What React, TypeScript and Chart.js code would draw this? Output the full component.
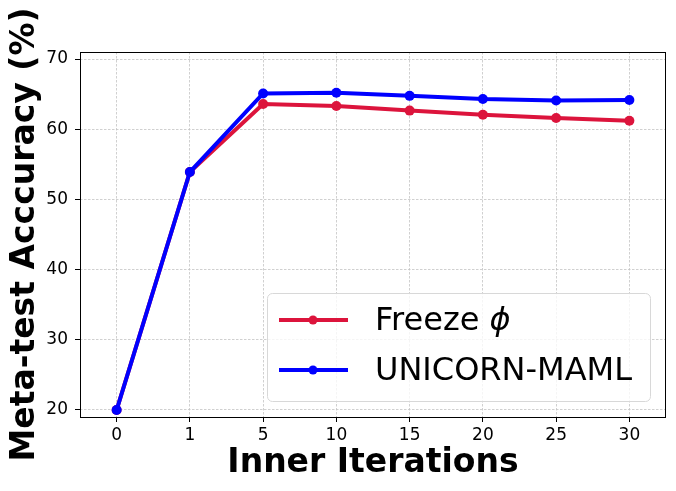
import React, { useEffect, useRef } from "react";
import { Chart, registerables } from "chart.js";

Chart.register(...registerables);

const categories = ["0", "1", "5", "10", "15", "20", "25", "30"];
const freezeValues = [20.0, 53.9, 63.6, 63.3, 62.65, 62.05, 61.6, 61.2];
const unicornValues = [20.0, 53.9, 65.1, 65.2, 64.75, 64.3, 64.1, 64.15];
const yTickValues = [20, 30, 40, 50, 60, 70];
const seriesLabels = ["Freeze \u03d5", "UNICORN-MAML"];
const seriesColors = ["#dc143c", "#0000ff"];

const FONT = "'DejaVu Sans', sans-serif";

const framePlugin = {
  id: "frame",
  afterDatasetsDraw(chart: any) {
    const { ctx, chartArea } = chart;
    ctx.save();
    ctx.strokeStyle = "#000";
    ctx.lineWidth = 1;
    ctx.setLineDash([]);
    ctx.strokeRect(
      Math.round(chartArea.left) + 0.5,
      Math.round(chartArea.top) + 0.5,
      Math.round(chartArea.right - chartArea.left) - 1,
      Math.round(chartArea.bottom - chartArea.top)
    );
    ctx.restore();
  },
};

const legendPlugin = {
  id: "innerLegend",
  afterDraw(chart: any) {
    const { ctx, chartArea } = chart;
    const boxW = 383;
    const boxH = 108;
    const x0 = chartArea.right - 16 - boxW;
    const y0 = chartArea.bottom - 16 - boxH;
    ctx.save();
    ctx.setLineDash([]);
    ctx.beginPath();
    (ctx as any).roundRect(x0 + 0.5, y0 + 0.5, boxW, boxH, 5);
    ctx.fillStyle = "rgba(255,255,255,0.8)";
    ctx.fill();
    ctx.strokeStyle = "#d8d8d8";
    ctx.lineWidth = 1;
    ctx.stroke();
    ctx.font = `32px ${FONT}`;
    ctx.textBaseline = "middle";
    ctx.textAlign = "left";
    seriesLabels.forEach((label, i) => {
      const cy = y0 + 27 + i * 50;
      ctx.strokeStyle = seriesColors[i];
      ctx.lineWidth = 4;
      ctx.beginPath();
      ctx.moveTo(x0 + 12, cy);
      ctx.lineTo(x0 + 81, cy);
      ctx.stroke();
      ctx.fillStyle = seriesColors[i];
      ctx.beginPath();
      ctx.arc(x0 + 46, cy, 4.5, 0, Math.PI * 2);
      ctx.fill();
      ctx.fillStyle = "#000";
      if (i === 0) {
        const base = "Freeze ";
        ctx.fillText(base, x0 + 108, cy + 2);
        const w = ctx.measureText(base).width;
        ctx.font = `oblique 32px ${FONT}`;
        ctx.fillText("\u03d5", x0 + 108 + w, cy + 2);
        ctx.font = `32px ${FONT}`;
      } else {
        ctx.fillText(label, x0 + 108, cy + 2);
      }
    });
    ctx.restore();
  },
};

export default function App() {
  const canvasRef = useRef<HTMLCanvasElement | null>(null);

  useEffect(() => {
    document.body.style.margin = "0";
    const canvas = canvasRef.current;
    if (!canvas) return;
    const gridCommon = {
      color: "#c4c4c4",
      lineWidth: 0.8,
      tickColor: "#000",
      tickLength: 5,
      tickWidth: 1,
      tickBorderDash: [],
    };
    const chart = new Chart(canvas, {
      type: "line",
      data: {
        labels: categories,
        datasets: [
          {
            label: seriesLabels[0],
            data: freezeValues,
            borderColor: seriesColors[0],
            backgroundColor: seriesColors[0],
            borderWidth: 4,
            pointRadius: 5,
            pointHoverRadius: 5,
            pointBorderWidth: 0,
            tension: 0,
            order: 1,
          },
          {
            label: seriesLabels[1],
            data: unicornValues,
            borderColor: seriesColors[1],
            backgroundColor: seriesColors[1],
            borderWidth: 4,
            pointRadius: 5,
            pointHoverRadius: 5,
            pointBorderWidth: 0,
            tension: 0,
            order: 0,
          },
        ],
      },
      options: {
        responsive: false,
        animation: false,
        events: [],
        layout: { padding: { top: 52, right: 10, left: 0, bottom: 0 } },
        plugins: {
          legend: { display: false },
          tooltip: { enabled: false },
          title: { display: false },
        },
        scales: {
          x: {
            type: "category",
            offset: true,
            grid: { ...gridCommon },
            border: { display: false, dash: [2.5, 1.5] },
            ticks: {
              color: "#000",
              font: { family: FONT, size: 17 },
              padding: 3,
              maxRotation: 0,
              autoSkip: false,
            },
            title: {
              display: true,
              text: "Inner Iterations",
              color: "#000",
              font: { family: FONT, size: 33, weight: "bold" },
              padding: { top: 0, bottom: 8 },
            },
            afterFit: (scale: any) => {
              scale.height = 74;
            },
          },
          y: {
            type: "linear",
            min: 19,
            max: 71,
            grid: { ...gridCommon },
            border: { display: false, dash: [2.5, 1.5] },
            afterBuildTicks: (scale: any) => {
              scale.ticks = yTickValues.map((v) => ({ value: v }));
            },
            ticks: {
              color: "#000",
              font: { family: FONT, size: 17 },
              padding: 7,
            },
            title: {
              display: true,
              text: "Meta-test Acccuracy (%)",
              color: "#000",
              font: { family: FONT, size: 33, weight: "bold" },
              padding: { top: 6, bottom: 0 },
            },
            afterFit: (scale: any) => {
              scale.width = 80;
            },
          },
        },
      },
      plugins: [framePlugin, legendPlugin],
    });
    return () => chart.destroy();
  }, []);

  return (
    <div style={{ position: "absolute", left: 0, top: 0, width: 676, height: 491, background: "#fff" }}>
      <canvas ref={canvasRef} width={676} height={491} />
    </div>
  );
}
